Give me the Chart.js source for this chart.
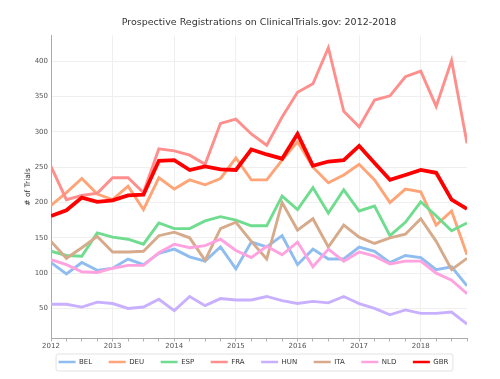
<!DOCTYPE html>
<html>
<head>
<meta charset="utf-8">
<script src="https://cdn.jsdelivr.net/npm/chart.js@4"></script>
<style>
  html, body { margin: 0; padding: 0; background: #fff; }
  #wrap { width: 500px; height: 379px; }
</style>
</head>
<body>
<div id="wrap"><canvas id="trialsChart" width="500" height="379"></canvas></div>
<script>
/* ===== DATA ===== */
const countries = ["BEL", "DEU", "ESP", "FRA", "HUN", "ITA", "NLD", "GBR"];
const yearTicks = [2012, 2013, 2014, 2015, 2016, 2017, 2018];
const valueTicks = [50, 100, 150, 200, 250, 300, 350, 400];

// one value per quarter, 2012 Q1 .. 2018 Q4
const quarters = [
  2012, 2012.25, 2012.5, 2012.75, 2013, 2013.25, 2013.5, 2013.75,
  2014, 2014.25, 2014.5, 2014.75, 2015, 2015.25, 2015.5, 2015.75,
  2016, 2016.25, 2016.5, 2016.75, 2017, 2017.25, 2017.5, 2017.75,
  2018, 2018.25, 2018.5, 2018.75
];

const bel = [115, 99, 115, 104, 107, 120, 112, 128, 134, 123, 117, 137, 106, 144, 137, 153, 112, 134, 120, 120, 137, 131, 115, 125, 122, 105, 109, 82];
const deu = [196, 214, 234, 212, 204, 223, 190, 235, 219, 232, 225, 234, 263, 232, 232, 260, 286, 250, 228, 239, 254, 232, 200, 219, 215, 168, 188, 126];
const esp = [131, 125, 124, 157, 151, 148, 141, 171, 163, 163, 174, 180, 175, 167, 167, 209, 190, 221, 185, 218, 188, 195, 153, 172, 201, 181, 160, 171];
const fra = [251, 204, 210, 213, 235, 235, 214, 276, 273, 267, 254, 312, 318, 297, 281, 321, 356, 368, 419, 329, 307, 345, 351, 378, 386, 336, 401, 284];
const hun = [56, 56, 52, 59, 57, 50, 52, 63, 47, 67, 54, 64, 62, 62, 67, 61, 57, 60, 58, 67, 57, 50, 41, 48, 43, 43, 45, 28];
const ita = [145, 121, 136, 152, 130, 130, 131, 153, 158, 150, 118, 163, 172, 145, 120, 200, 161, 177, 137, 168, 151, 142, 150, 155, 177, 145, 105, 121];
const nld = [119, 112, 102, 101, 107, 111, 111, 129, 141, 136, 139, 148, 132, 122, 138, 126, 144, 109, 134, 117, 130, 124, 113, 117, 117, 100, 90, 71];
const gbr = [181, 189, 207, 201, 203, 210, 211, 259, 260, 246, 251, 247, 246, 275, 268, 262, 297, 252, 258, 260, 280, 256, 232, 239, 246, 242, 204, 191];

const seriesValues = [bel, deu, esp, fra, hun, ita, nld, gbr];

// Pastel colours, GBR is the highlighted one
const colors = ["#8fbdf0", "#ffa477", "#6fdc90", "#ff8f8c", "#c9b0ff", "#d6aa8a", "#ffa2df", "#ff0000"];

const FONT = "'DejaVu Sans', Verdana, sans-serif";
const GAP = "\u2002\u2002\u2002"; // extra room between legend entries

/* ===== LEGEND FRAME ===== */
const legendFrame = {
  id: "legendFrame",
  afterDraw(chart) {
    const boxes = chart.legend && chart.legend.legendHitBoxes;
    if (!boxes || !boxes.length) return;
    const first = boxes[0];
    const last = boxes[boxes.length - 1];
    const x1 = first.left - 3;
    const x2 = last.left + last.width + 4;
    const y1 = first.top - 5;
    const y2 = first.top + first.height + 5;
    const ctx = chart.ctx;
    ctx.save();
    ctx.strokeStyle = "#e2e2e2";
    ctx.lineWidth = 1;
    ctx.beginPath();
    ctx.roundRect(x1 + 0.5, y1 + 0.5, x2 - x1, y2 - y1, 2);
    ctx.stroke();
    ctx.restore();
  }
};

/* ===== LINE CHART ===== */
function buildDatasets() {
  return countries.map((name, i) => ({
    label: name,
    data: quarters.map((q, k) => ({ x: q, y: seriesValues[i][k] })),
    borderColor: colors[i],
    backgroundColor: colors[i],
    borderWidth: name === "GBR" ? 3.8 : 2.9,
    pointRadius: 0,
    tension: 0,
    order: countries.length - i   // GBR drawn last (on top)
  }));
}

const ctx = document.getElementById("trialsChart");

new Chart(ctx, {
  type: "line",
  data: { datasets: buildDatasets() },
  options: {
    responsive: false,
    animation: false,
    layout: { padding: { left: 7, right: 0, top: 0, bottom: 3.5 } },
    plugins: {
      title: {
        display: true,
        text: "Prospective Registrations on ClinicalTrials.gov: 2012-2018",
        fullSize: false,
        color: "#333",
        font: { family: FONT, size: 9.5, weight: "normal" },
        padding: { top: 17, bottom: 7 }
      },
      legend: {
        position: "bottom",
        labels: {
          boxWidth: 17,
          boxHeight: 2.5,
          padding: 6,
          color: "#333",
          font: { family: FONT, size: 7 },
          generateLabels: (chart) => chart.data.datasets.map((ds, i, all) => ({
            text: i < all.length - 1 ? ds.label + GAP : ds.label,
            fillStyle: ds.borderColor,
            strokeStyle: ds.borderColor,
            lineWidth: 0,
            fontColor: "#333",
            hidden: false,
            datasetIndex: i
          }))
        }
      },
      tooltip: { enabled: false }
    },
    scales: {
      x: {
        type: "linear",
        min: 2012,
        max: 2018.75,
        afterFit: (scale) => { scale.height = 14; },
        afterBuildTicks: (axis) => { axis.ticks = quarters.map(v => ({ value: v })); },
        ticks: {
          autoSkip: false,
          maxRotation: 0,
          padding: 0,
          color: "#555",
          font: { family: FONT, size: 7 },
          callback: (value) => yearTicks.includes(value) ? String(value) : ""
        },
        grid: {
          color: (c) => (c.tick && yearTicks.includes(c.tick.value)) ? "#efefef" : "rgba(0,0,0,0)",
          tickColor: "#b0b0b0",
          tickLength: 3,
          lineWidth: 1
        },
        border: { color: "#aaa", width: 1 }
      },
      y: {
        min: 7.5,
        max: 436.5,
        afterFit: (scale) => { scale.width = 44; },
        afterBuildTicks: (axis) => { axis.ticks = valueTicks.map(v => ({ value: v })); },
        ticks: {
          padding: 3,
          color: "#555",
          font: { family: FONT, size: 7 }
        },
        grid: { color: "#efefef", drawTicks: false },
        border: { color: "#aaa", width: 1 },
        title: {
          display: true,
          text: "# of Trials",
          color: "#333",
          font: { family: FONT, size: 7.5 },
          padding: { top: 17, bottom: 0 }
        }
      },
      spacer: {
        type: "linear",
        position: "right",
        afterFit: (scale) => { scale.width = 33; },
        ticks: { display: false },
        grid: { display: false },
        border: { display: false }
      }
    }
  },
  plugins: [legendFrame]
});
</script>
</body>
</html>
